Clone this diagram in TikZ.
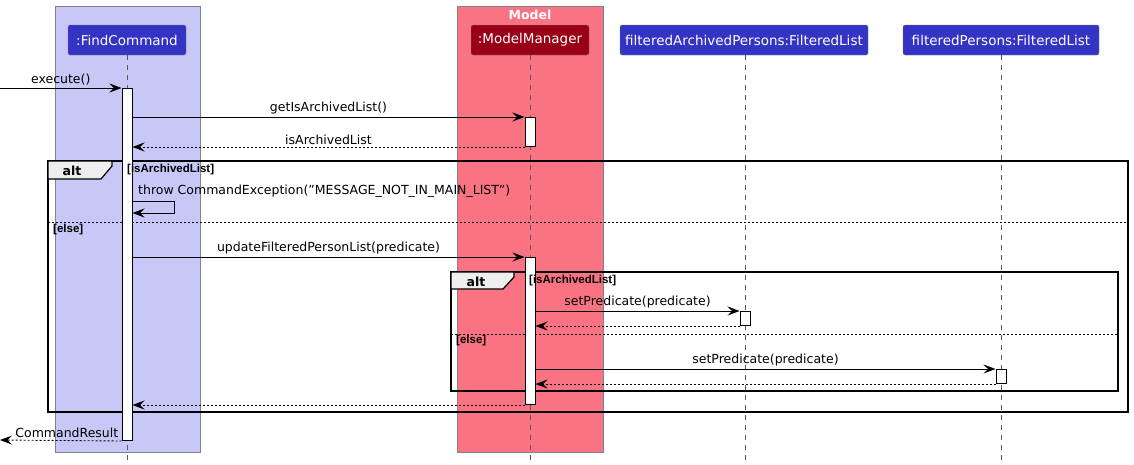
\documentclass[tikz,border=0pt]{standalone}
\usepackage{fontspec}
\setmainfont{DejaVu Sans}
\newfontfamily\guardfont{Liberation Sans}
\usetikzlibrary{arrows.meta}
\definecolor{lav}{RGB}{200,200,248}
\definecolor{modelpink}{RGB}{249,115,130}
\definecolor{hblue}{RGB}{51,51,196}
\definecolor{hred}{RGB}{153,0,24}
\definecolor{altgray}{RGB}{238,238,238}
\definecolor{boxline}{RGB}{130,130,140}
\begin{document}
\begin{tikzpicture}[x=1pt,y=-1pt,
  grp/.style={draw=boxline, line width=0.8pt},
  head/.style={rounded corners=2pt, draw=black!50, text=white, font=\fontsize{13.5}{16}\selectfont, minimum height=30pt, inner sep=0pt},
  life/.style={draw=black!65, dash pattern=on 5pt off 5pt, line width=0.7pt},
  act/.style={draw=black, fill=white, line width=1pt, minimum width=10pt, inner sep=0pt},
  msg/.style={-{Stealth[length=12pt,width=9pt,inset=4.5pt]}, line width=0.9pt},
  ret/.style={msg, dash pattern=on 2pt off 2pt},
  lbl/.style={font=\fontsize{12.5}{15}\selectfont, inner sep=1pt},
  guard/.style={font=\guardfont\bfseries\fontsize{11.5}{13}\selectfont, inner sep=0pt, anchor=west},
  altlbl/.style={font=\bfseries\fontsize{12.5}{15}\selectfont, inner sep=0pt},
  frame/.style={draw, line width=1.5pt},
  tab/.style={draw, line width=1.2pt, fill=altgray},
  sep/.style={draw, line width=0.8pt, dash pattern=on 2pt off 2pt}
]
\useasboundingbox (0,0) rectangle (1134,464);
% group boxes
\draw[grp, fill=lav] (55,6) rectangle (200,452);
\draw[grp, fill=modelpink] (457,6) rectangle (603,452);
\node[font=\bfseries\fontsize{12.5}{15}\selectfont, text=white, inner sep=0pt] (modeltitle) at (530,15) {Model};
% headers
\node[head, fill=hblue, minimum width=118pt] (fc) at (127,40) {:FindCommand};
\node[head, fill=hred, minimum width=118pt] (mm) at (530,40) {:ModelManager};
\node[head, fill=hblue, minimum width=248pt] (fap) at (744,40) {filteredArchivedPersons:FilteredList};
\node[head, fill=hblue, minimum width=196pt] (fpp) at (1001,40) {filteredPersons:FilteredList};
% lifelines
\coordinate (fcend) at (127,464);
\coordinate (mmend) at (530,464);
\coordinate (fapend) at (745,464);
\coordinate (fppend) at (1001,464);
\draw[life] (fc.south -| fcend) -- (fcend);
\draw[life] (mm.south) -- (mmend);
\draw[life] (fap.south -| fapend) -- (fapend);
\draw[life] (fpp.south) -- (fppend);
% frames
\draw[frame] (48,161) rectangle (1128,412);
\draw[tab] (48,161) -- (112,161) -- (112,166) -- (101,179) -- (48,179) -- cycle;
\node[altlbl] (alt1) at (72,170.5) {alt};
\draw[sep] (48,222) -- (1128,222);
\draw[frame] (451,272) rectangle (1118,391);
\draw[tab] (451,272) -- (514,272) -- (514,277) -- (503,289) -- (451,289) -- cycle;
\node[altlbl] (alt2) at (476,281.5) {alt};
\draw[sep] (451,334) -- (1118,334);
% activations
\node[act, minimum height=352pt, anchor=north] (fca) at (127,88) {};
\node[act, minimum height=29pt, anchor=north] (mm1) at (530,117) {};
\node[act, minimum height=147pt, anchor=north] (mm2) at (530,257) {};
\node[act, minimum height=14pt, anchor=north] (fa) at (745,311) {};
\node[act, minimum height=14pt, anchor=north] (fp) at (1001,369) {};
% guards
\node[guard] (g1) at (127,170) {[isArchivedList]};
\node[guard] (e1) at (53,230) {[else]};
\node[guard] (g2) at (529,281) {[isArchivedList]};
\node[guard] (e2) at (456,341) {[else]};
% messages
\coordinate (start) at (0,88);
\coordinate (finish) at (0,440);
\draw[msg] (start) -- (fca.north west) node[lbl, midway, above=1pt] {execute()};
\draw[msg] (fca.east |- mm1.north) -- (mm1.north west) node[lbl, midway, above=1pt] {getIsArchivedList()};
\draw[ret] (mm1.south west) -- (fca.east |- mm1.south) node[lbl, midway, above=1pt] {isArchivedList};
\coordinate (self1) at (174,201);
\coordinate (self2) at (174,213);
\draw[msg] (fca.east |- self1) -- (self1) -- (self2) -- (fca.east |- self2);
\node[lbl, anchor=south west] (throwlbl) at (137,199) {throw CommandException(\symbol{34}MESSAGE\_NOT\_IN\_MAIN\_LIST\symbol{34})};
\draw[msg] (fca.east |- mm2.north) -- (mm2.north west) node[lbl, midway, above=1pt] {updateFilteredPersonList(predicate)};
\draw[msg] (mm2.east |- fa.north) -- (fa.north west) node[lbl, midway, above=1pt] {setPredicate(predicate)};
\draw[ret] (fa.south west) -- (mm2.east |- fa.south);
\draw[msg] (mm2.east |- fp.north) -- (fp.north west) node[lbl, midway, above=1pt] {setPredicate(predicate)};
\draw[ret] (fp.south west) -- (mm2.east |- fp.south);
\draw[ret] (mm2.south west) -- (fca.east |- mm2.south);
\draw[ret] (fca.south west) -- (finish) node[lbl, pos=0.45, above=1pt] {CommandResult};
\end{tikzpicture}
\end{document}
